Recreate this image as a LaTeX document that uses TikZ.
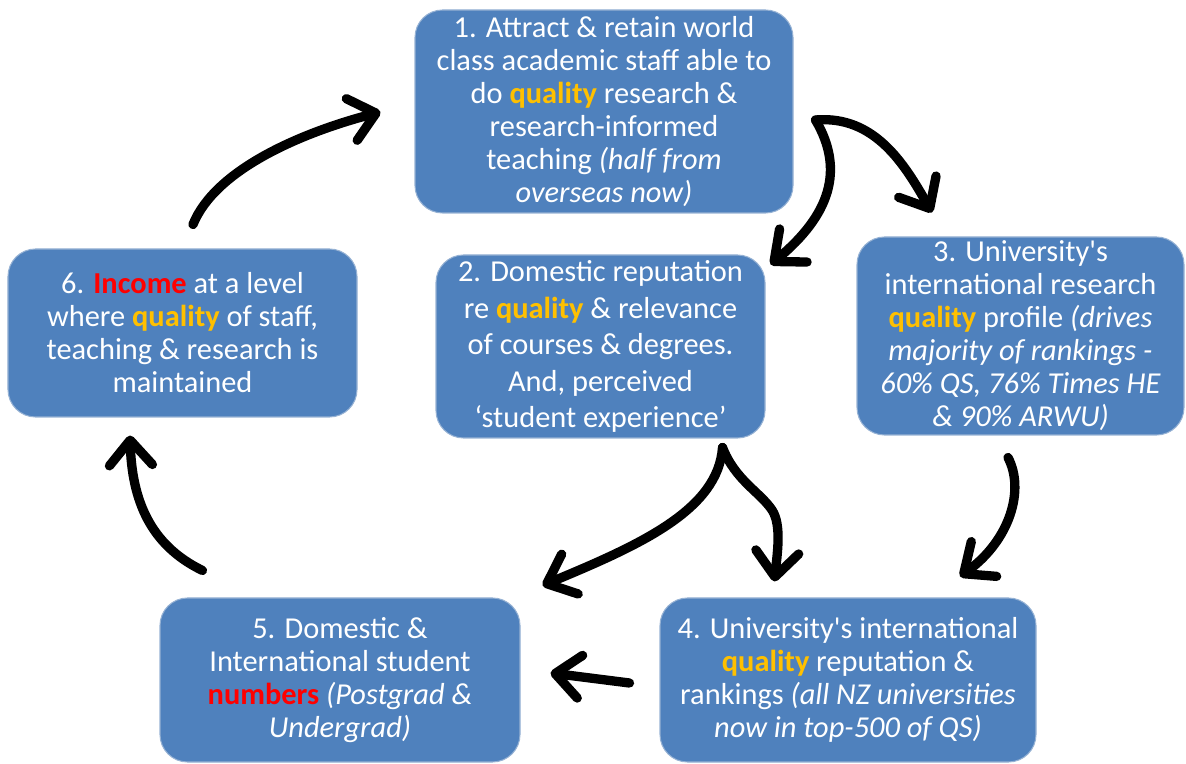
\documentclass[tikz,border=0pt]{standalone}
\usepackage{fontspec}
\setmainfont{Carlito}
\usetikzlibrary{arrows.meta}
\pgfdeclarelayer{edgelayer}
\pgfdeclarelayer{nodelayer}
\pgfsetlayers{edgelayer,nodelayer,main}
\definecolor{boxblue}{RGB}{79,129,189}
\definecolor{boxedge}{RGB}{150,178,212}
\definecolor{qgold}{RGB}{255,192,0}
\definecolor{qred}{RGB}{255,0,0}
\newcommand{\qual}{\textcolor{qgold}{\textbf{quality}}}
\tikzset{font=\fontsize{17.3}{18.8}\selectfont}
\tikzstyle{box}=[rectangle,rounded corners=0.55cm,fill=boxblue,draw=boxedge,line width=0.6pt,text=white,align=center,inner sep=0pt]
\tikzstyle{flow}=[line width=5.3pt,line cap=round,-{Straight Barb[length=0.5cm,width=0.86cm,round]}]

\begin{document}
\begin{tikzpicture}
	\useasboundingbox (0,0) rectangle (23.72,-15.28);
	\begin{pgfonlayer}{nodelayer}
		\node [style=box, minimum width=7.56cm, minimum height=4.06cm] (1) at (12.08, -2.23) {1. Attract \& retain world\\class academic staff able to\\do \qual{} research \&\\research-informed\\teaching \textit{(half from}\\\textit{overseas now)}};
		\node [style=box, minimum width=6.58cm, minimum height=3.66cm, font=\fontsize{17.3}{20.8}\selectfont] (2) at (12.01, -6.93) {2. Domestic reputation\\re \qual{} \& relevance\\of courses \& degrees.\\And, perceived\\‘student experience’};
		\node [style=box, minimum width=6.54cm, minimum height=3.96cm] (3) at (20.41, -6.72) {3. University\textquotesingle s\\international research\\\qual{} profile \textit{(drives}\\\textit{majority of rankings -}\\\textit{60\% QS, 76\% Times HE}\\\textit{\& 90\% ARWU)}};
		\node [style=box, minimum width=7.52cm, minimum height=3.28cm] (4) at (16.96, -13.60) {4. University\textquotesingle s international\\\qual{} reputation \&\\rankings \textit{(all NZ universities}\\\textit{now in top-500 of QS)}};
		\node [style=box, minimum width=7.20cm, minimum height=3.28cm] (5) at (6.80, -13.60) {5. Domestic \&\\International student\\\textcolor{qred}{\textbf{numbers}} \textit{(Postgrad \&}\\\textit{Undergrad)}};
		\node [style=box, minimum width=6.98cm, minimum height=3.36cm] (6) at (3.65, -6.66) {6. \textcolor{qred}{\textbf{Income}} at a level\\where \qual{} of staff,\\teaching \& research is\\maintained};
	\end{pgfonlayer}
	\begin{pgfonlayer}{edgelayer}
		\draw [style=flow] ([shift={(0.21,0.48)}]6.north) .. controls (4.30,-3.40) and (6.00,-2.66) .. ([shift={(-0.68,-0.01)}]1.west);
		\draw [style=flow] ([shift={(0.44,-0.17)}]1.east) .. controls (17.50,-2.30) and (18.10,-3.30) .. ([shift={(-1.77,0.48)}]3.north);
		\draw [style=flow] ([shift={(0.44,-0.17)}]1.east) .. controls (16.90,-3.40) and (16.60,-4.30) .. ([shift={(0.10,-0.20)}]2.north east);
		\draw [style=flow] ([shift={(-0.25,-0.44)}]3.south) .. controls (20.50,-9.80) and (20.20,-10.80) .. ([shift={(2.24,0.42)}]4.north);
		\draw [style=flow] ([shift={(-0.86,-0.18)}]2.south east) .. controls (14.36,-10.20) and (12.80,-10.90) .. ([shift={(0.44,0.24)}]5.north east);
		\draw [style=flow] ([shift={(-0.86,-0.18)}]2.south east) .. controls (14.70,-9.60) and (15.20,-9.84) .. (15.44,-10.20) .. controls (15.64,-10.50) and (15.54,-11.10) .. ([shift={(2.30,0.32)}]4.north west);
		\draw [style=flow] ([shift={(-0.60,-0.06)}]4.west) to ([shift={(0.60,0.14)}]5.east);
		\draw [style=flow] ([shift={(0.86,0.54)}]5.north west) .. controls (3.00,-10.90) and (2.64,-10.00) .. ([shift={(-1.05,-0.36)}]6.south);
	\end{pgfonlayer}
\end{tikzpicture}
\end{document}
